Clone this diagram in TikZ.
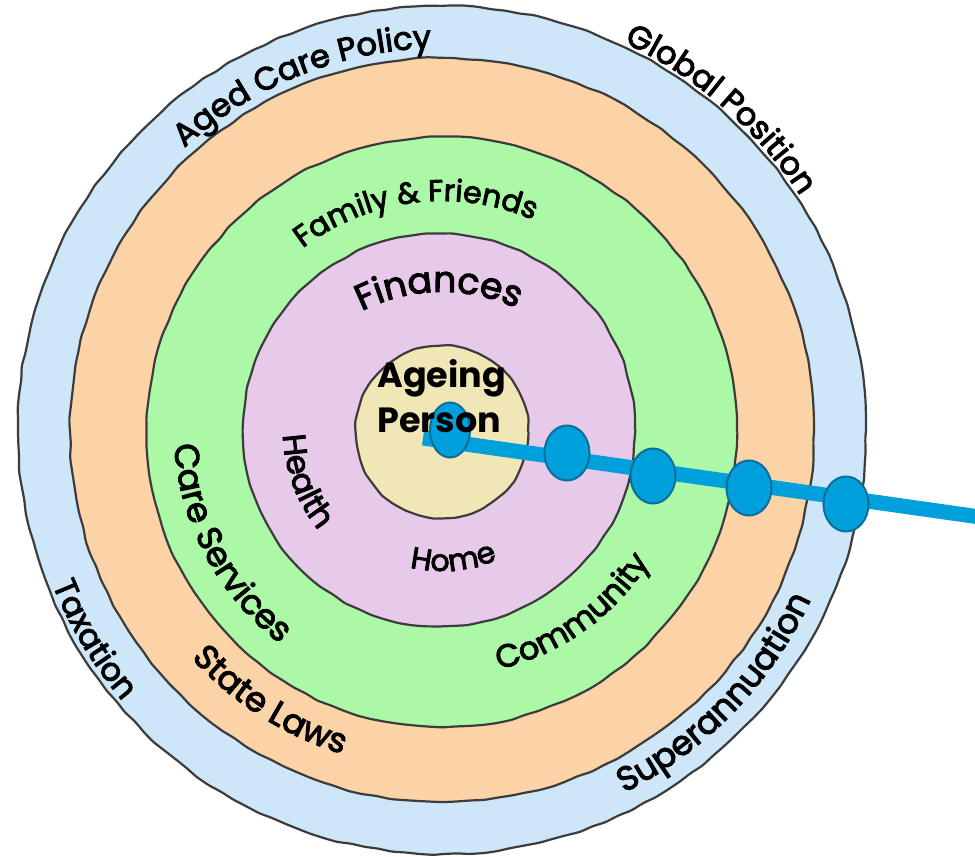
\documentclass[tikz,border=0pt]{standalone}
\usepackage{fontspec}
\setmainfont{Poppins}
\newfontfamily\lblfont{Poppins}[FakeBold=3]
\usetikzlibrary{decorations.text,decorations.pathmorphing,shapes.geometric}
\definecolor{ringblue}{HTML}{CDE6F8}
\definecolor{ringorange}{HTML}{FCD3A6}
\definecolor{ringgreen}{HTML}{ABF9A7}
\definecolor{ringpink}{HTML}{E7CAEA}
\definecolor{ringyellow}{HTML}{F1E7B6}
\definecolor{ringline}{HTML}{3C3C3C}
\definecolor{pathblue}{HTML}{00A0DC}
\definecolor{pathedge}{HTML}{0B6F9A}
\newcommand\arclabel[6]{%
  \path[decorate,decoration={text along path,text align=center,
      text={|\lblfont\fontsize{#5}{#5}\selectfont|#6}}]
    ([shift={(#3:#2)}]#1) arc[start angle=#3,end angle=#4,radius=#2];}
\begin{document}
\begin{tikzpicture}[x=0.5pt,y=0.5pt,
  ring/.style={draw=ringline,line width=1.1pt,decorate,
    decoration={random steps,segment length=7pt,amplitude=0.45pt},rounded corners=1.5pt},
  stone/.style={ellipse,fill=pathblue,draw=pathedge,line width=1pt,
    minimum width=22.5pt,minimum height=27.5pt,inner sep=0pt},
  pathline/.style={draw=pathblue,line width=7.5pt},
  centre/.style={font=\fontsize{17.5}{17.5}\selectfont\bfseries,anchor=base west,inner sep=0pt}]
\useasboundingbox (-442,-427) rectangle (533,430);
\fill[white] (-442,-427) rectangle (533,430);
\pgfmathsetseed{11}
% rings
\draw[ring,fill=ringblue]   (0,0) circle[radius=424];
\draw[ring,fill=ringorange] (0,0) circle[radius=372];
\draw[ring,fill=ringgreen]  (0,-2) circle[radius=295];
\draw[ring,fill=ringpink]   (-3,0) circle[radius=196];
\draw[ring,fill=ringyellow] (0,-2) circle[radius=86];
% curved labels (top: clockwise; bottom: counter-clockwise)
\arclabel{0,0}{382}{142}{82}{16}{Aged Care Policy}
\arclabel{0,0}{428}{79}{19}{16}{Global Position}
\arclabel{0,0}{229}{150}{44}{15}{Family {\&} Friends}
\arclabel{0,-40}{178}{151}{31}{18}{Finances}
\arclabel{0,0}{419}{181}{241}{16}{Taxation}
\arclabel{0,0}{339}{207.6}{267.6}{17}{State Laws}
\arclabel{0,0}{268}{163}{253}{17}{Care Services}
\arclabel{0,0}{159}{150}{251}{16}{Health}
\arclabel{0,0}{141}{230}{320}{15}{Home}
\arclabel{0,0}{246}{260}{351}{16}{Community}
\arclabel{0,0}{406}{276}{356}{17}{Superannuation}
% path with stepping stones
\coordinate (pstart) at (-19,-8);
\coordinate (pend) at (545,-88);
\draw[pathline] (pstart) -- (pend);
\node[stone,minimum width=20pt] (s1) at (8,0) {};
\node[stone] (s2) at (125,-23) {};
\node[stone] (s3) at (211,-46) {};
\node[stone] (s4) at (307,-58) {};
\node[stone] (s5) at (404,-74) {};
% centre text (on top of the first stone)
\node[centre] (age) at (-65,43) {Ageing};
\node[centre] (per) at (-65,-2) {Person};
\end{tikzpicture}
\end{document}
